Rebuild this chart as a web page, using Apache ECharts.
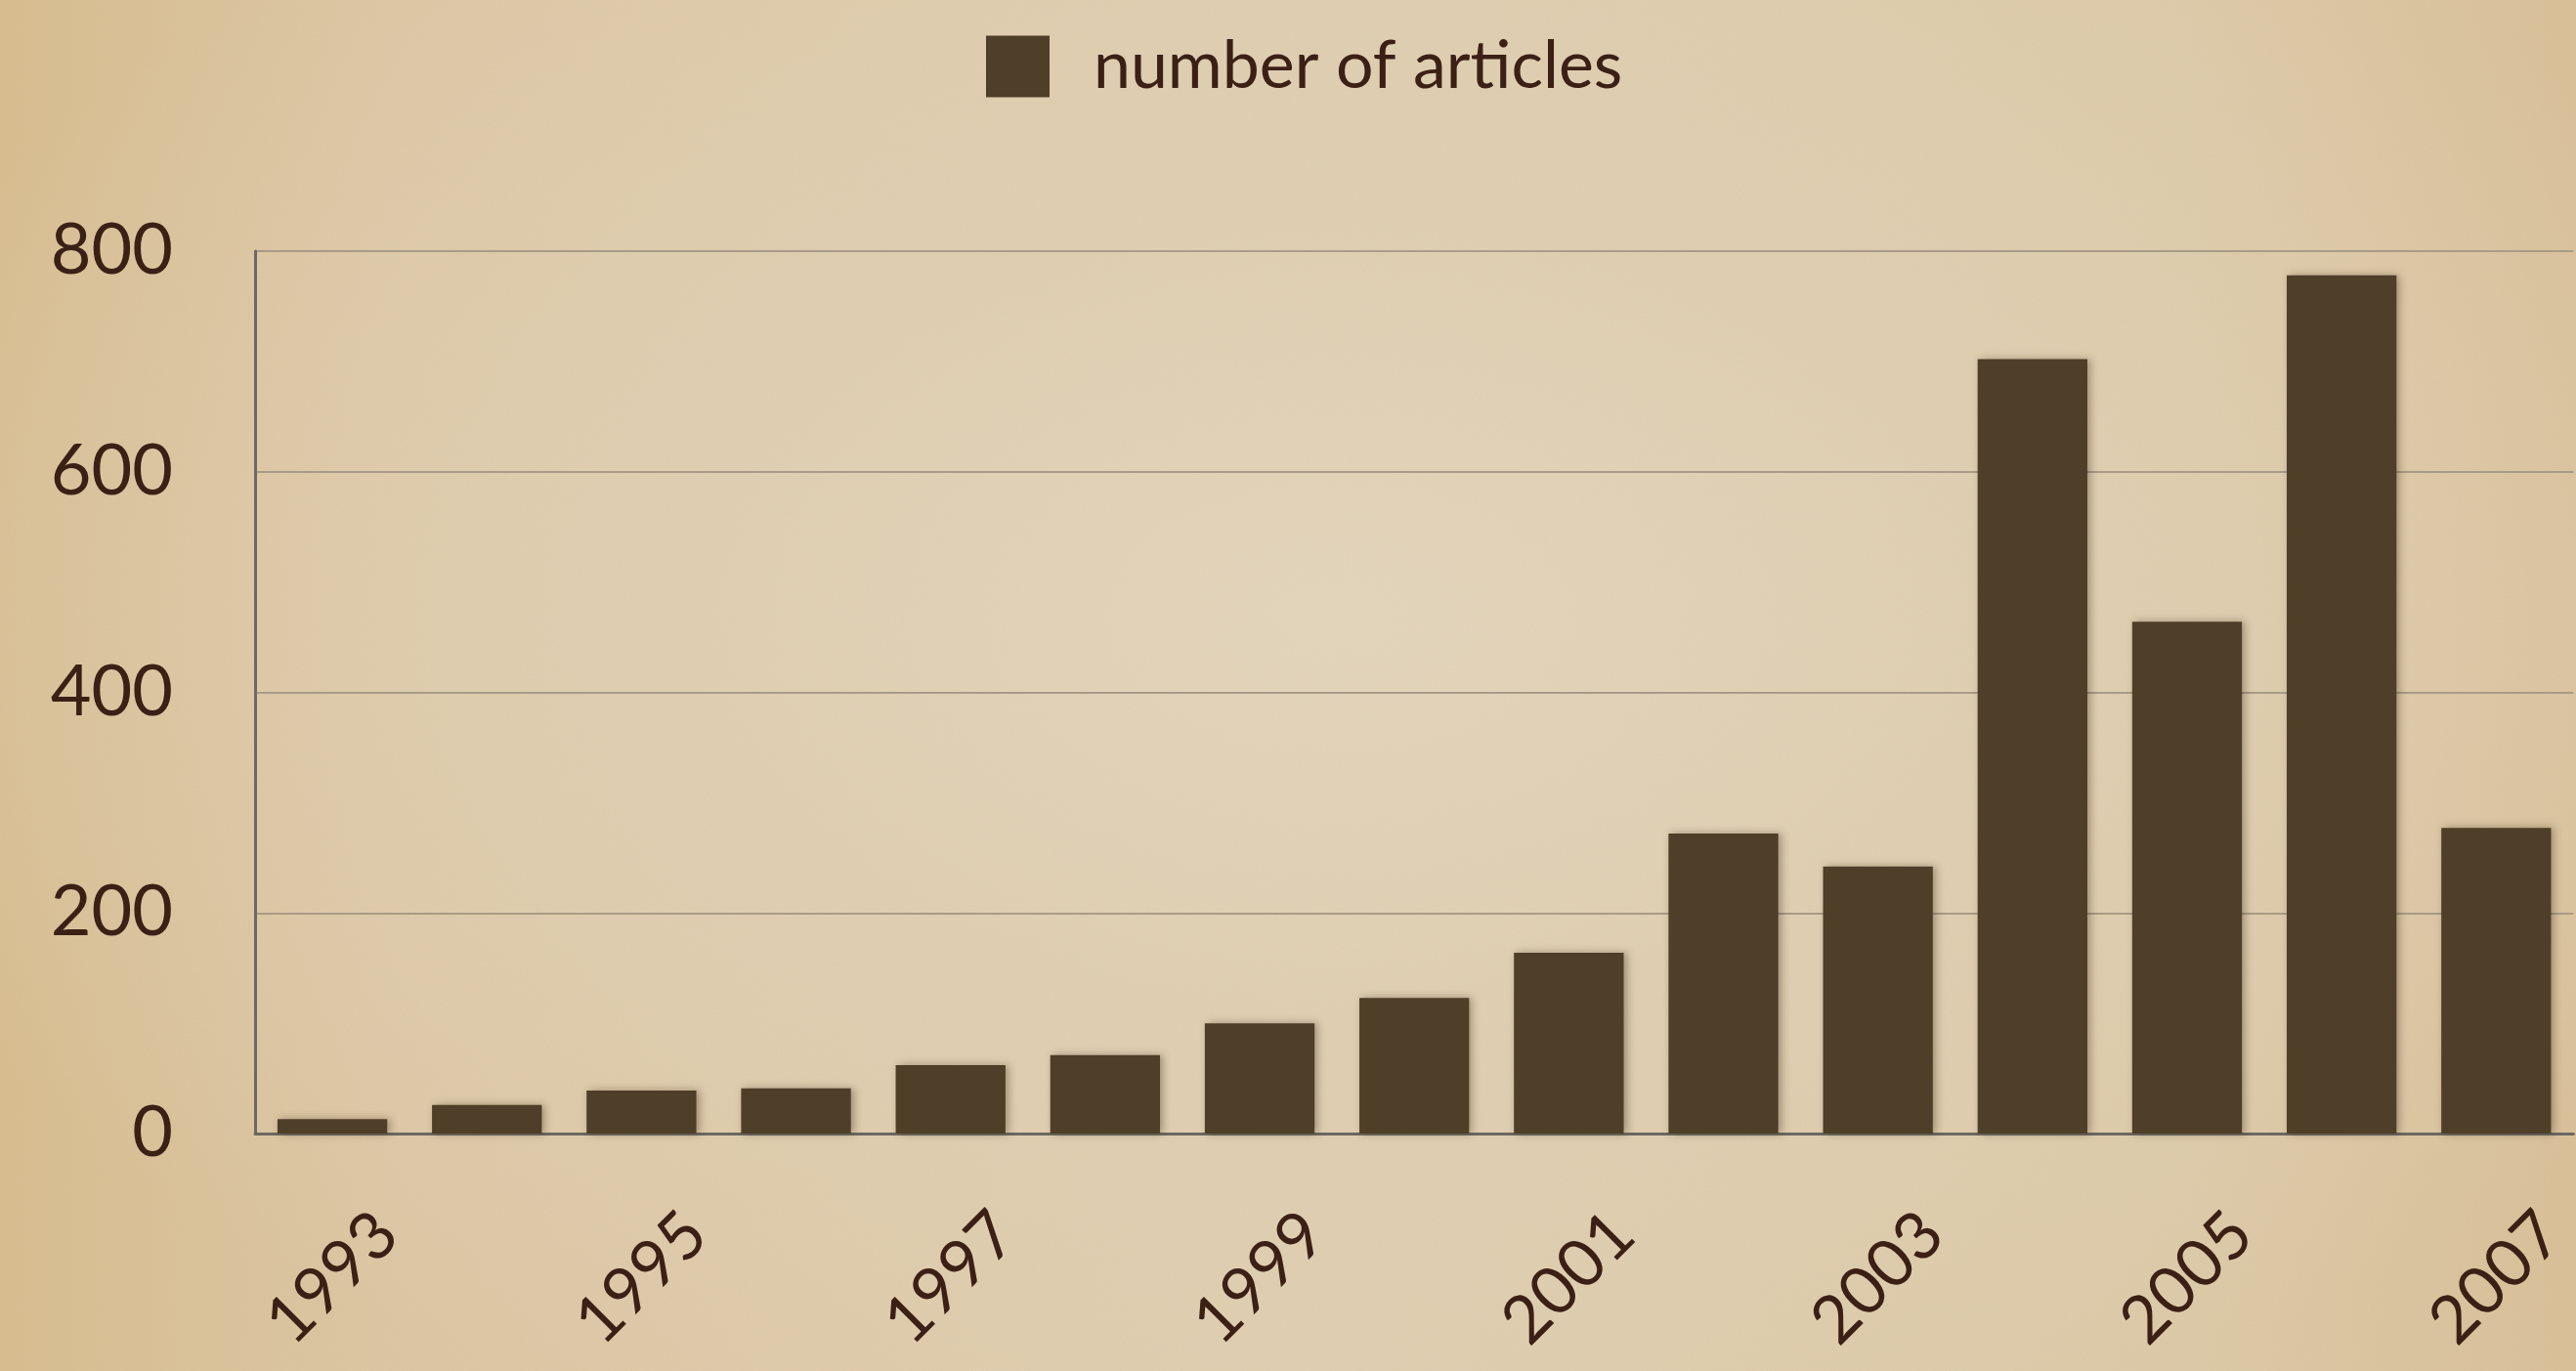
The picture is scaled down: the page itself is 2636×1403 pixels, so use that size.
<!DOCTYPE html>
<html>
<head>
<meta charset="utf-8">
<script src="https://cdn.jsdelivr.net/npm/echarts@6/dist/echarts.min.js"></script>
<style>
html,body{margin:0;padding:0;width:2636px;height:1403px;overflow:hidden;}
body{
  background:
    radial-gradient(ellipse 60% 65% at 52% 45%, rgba(228,214,190,1) 0%, rgba(224,208,180,0.9) 45%, rgba(215,190,148,0) 100%),
    linear-gradient(90deg, #d8bd90 0%, #dcc7a4 15%, #e0cfb2 50%, #dccaa8 85%, #d9c099 100%);
}
#noise{position:absolute;left:0;top:0;width:2636px;height:1403px;opacity:0.18;}
#chart{position:absolute;left:0;top:0;width:2636px;height:1403px;}
</style>
</head>
<body>
<svg id="noise" xmlns="http://www.w3.org/2000/svg"><filter id="n"><feTurbulence type="fractalNoise" baseFrequency="0.9" numOctaves="2" stitchTiles="stitch"/><feColorMatrix type="matrix" values="0 0 0 0 0.55  0 0 0 0 0.42  0 0 0 0 0.25  0 0 0 0.6 0"/></filter><rect width="100%" height="100%" filter="url(#n)"/></svg>
<div id="chart"></div>
<script>
const years = ['1993','1994','1995','1996','1997','1998','1999','2000','2001','2002','2003','2004','2005','2006','2007'];
const articles = [13, 26, 39, 41, 62, 71, 100, 123, 164, 272, 242, 702, 464, 778, 277];
const yTicks = [0, 200, 400, 600, 800];
const seriesName = 'number of articles';

const font = 'Lato';
const textColor = '#3b2016';
const barColor = '#4f3e28';

const chart = echarts.init(document.getElementById('chart'), null, {renderer:'canvas'});
chart.setOption({
  backgroundColor: 'transparent',
  animation: false,
  legend: {
    data: [seriesName],
    left: 1004,
    top: 29,
    itemWidth: 65,
    itemHeight: 63,
    icon: 'rect',
    textStyle: {fontFamily: font, fontSize: 68, color: textColor, padding: [0,0,6,40]}
  },
  grid: {left: 261, top: 257, width: 2380, height: 903, containLabel: false},
  xAxis: {
    type: 'category',
    data: years,
    axisLine: {show: true, lineStyle: {color: '#6d6862', width: 3}},
    axisTick: {show: false},
    axisLabel: {
      interval: 1,
      rotate: 45,
      align: 'center',
      verticalAlign: 'middle',
      margin: 148,
      fontFamily: font,
      fontSize: 68,
      color: textColor
    }
  },
  yAxis: {
    type: 'value',
    min: yTicks[0],
    max: yTicks[yTicks.length-1],
    interval: 200,
    axisLine: {show: true, lineStyle: {color: '#6d6862', width: 3}},
    axisTick: {show: false},
    splitLine: {show: true, lineStyle: {color: '#a99b87', width: 2}},
    axisLabel: {fontFamily: font, fontSize: 72, color: textColor, margin: 84}
  },
  series: [{
    name: seriesName,
    type: 'bar',
    data: articles,
    barCategoryGap: '29%',
    itemStyle: {color: barColor, shadowColor: 'rgba(40,25,10,0.35)', shadowBlur: 8, shadowOffsetX: 3}
  }]
});
</script>
</body>
</html>
